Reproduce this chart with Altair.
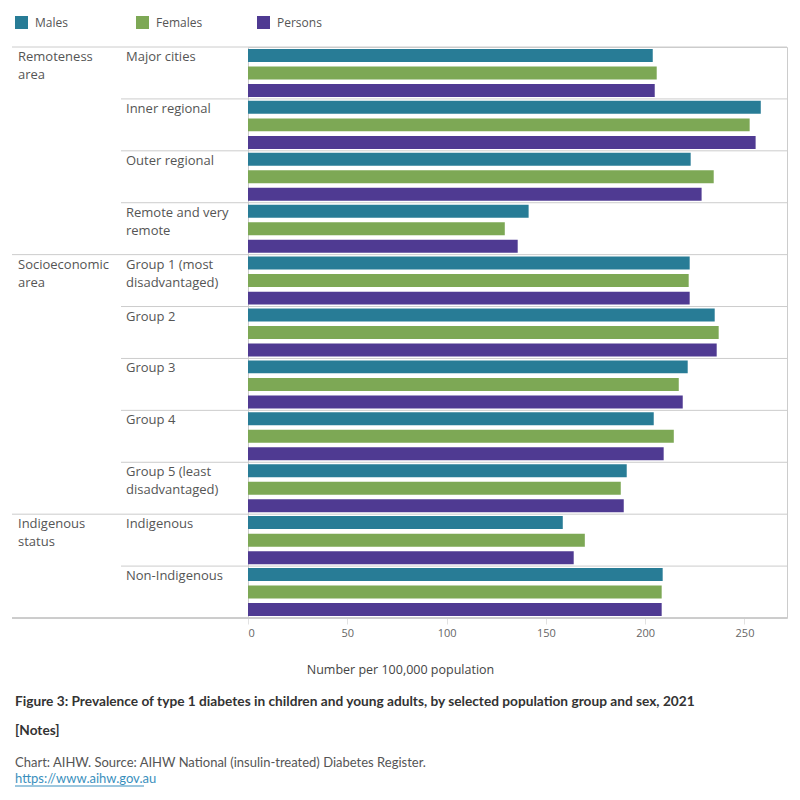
import altair as alt
import pandas as pd

# ---- data ----
groups = ["Remoteness area"] * 4 + ["Socioeconomic area"] * 5 + ["Indigenous status"] * 2
group_labels = ["Remoteness\narea", "Socioeconomic\narea", "Indigenous\nstatus"]
subgroups = [
    "Major cities", "Inner regional", "Outer regional", "Remote and very remote",
    "Group 1 (most disadvantaged)", "Group 2", "Group 3", "Group 4",
    "Group 5 (least disadvantaged)", "Indigenous", "Non-Indigenous",
]
subgroup_labels = [
    "Major cities", "Inner regional", "Outer regional", "Remote and very\nremote",
    "Group 1 (most\ndisadvantaged)", "Group 2", "Group 3", "Group 4",
    "Group 5 (least\ndisadvantaged)", "Indigenous", "Non-Indigenous",
]
sexes = ["Males", "Females", "Persons"]
males = [203.8, 258.2, 222.9, 141.3, 222.4, 235.0, 221.4, 204.3, 190.7, 158.5, 208.8]
females = [205.8, 252.6, 234.5, 129.3, 221.9, 237.0, 216.9, 214.4, 187.7, 169.6, 208.3]
persons = [204.8, 255.6, 228.4, 135.8, 222.4, 236.0, 218.9, 209.3, 189.2, 164.0, 208.3]
colors = ["#287c96", "#7da855", "#4f3a92"]
x_ticks = [0, 50, 100, 150, 200, 250]
x_max = 271.4

title_text = "Figure 3: Prevalence of type 1 diabetes in children and young adults, by selected population group and sex, 2021"
notes_text = "[Notes]"
source_text = "Chart: AIHW. Source: AIHW National (insulin-treated) Diabetes Register."
link_text = "https://www.aihw.gov.au"

# ---- tables ----
rows = []
for i, s in enumerate(subgroups):
    for sex, vals in zip(sexes, [males, females, persons]):
        rows.append({"sub": s, "sex": sex, "value": vals[i]})
bars_df = pd.DataFrame(rows)

first_flags = [i == 0 or groups[i] != groups[i - 1] for i in range(len(groups))]
rows_df = pd.DataFrame({"sub": subgroups, "label": subgroup_labels, "first": first_flags})
group_first_subs = [s for s, f in zip(subgroups, first_flags) if f]
group_df = pd.DataFrame({"sub": group_first_subs, "label": group_labels})

W = 539
H = 571
FONT = "Open Sans"
NARROW = "Lato"

yscale = alt.Scale(domain=subgroups, paddingInner=0, paddingOuter=0)

bars = alt.Chart(bars_df).mark_bar().encode(
    x=alt.X(
        "value:Q",
        scale=alt.Scale(domain=[0, x_max], nice=False, zero=True),
        axis=alt.Axis(
            values=x_ticks, grid=False, domain=False, ticks=True, tickColor="#e2e2e2",
            tickSize=6, labelFontSize=11, labelFont=FONT, labelColor="#666666",
            labelPadding=3, title="Number per 100,000 population",
            titleFont=FONT, titleFontSize=12.5, titleFontWeight="normal",
            titleColor="#444444", titleX=152, titleY=51, titleAnchor="middle",
            titleAlign="center", titleBaseline="middle",
        ),
    ),
    y=alt.Y("sub:N", scale=yscale, axis=None),
    yOffset=alt.YOffset(
        "sex:N", sort=sexes,
        scale=alt.Scale(domain=sexes, paddingInner=0.26, paddingOuter=0.11),
    ),
    color=alt.Color(
        "sex:N",
        scale=alt.Scale(domain=sexes, range=colors),
        legend=alt.Legend(
            orient="none", legendX=-233, legendY=-31, direction="horizontal",
            title=None, symbolType="square", symbolSize=169, symbolStrokeWidth=0,
            labelFontSize=12, labelFont=FONT, labelColor="#555555", labelOffset=7,
            columnPadding=54, gridAlign="all",
        ),
    ),
)

rule_first = alt.Chart(rows_df).mark_rule(color="#cccccc", strokeWidth=1).encode(
    y=alt.Y("sub:N", scale=yscale, bandPosition=0, axis=None),
    x=alt.value(-236), x2=alt.value(W),
).transform_filter("datum.first")

rule_other = alt.Chart(rows_df).mark_rule(color="#cccccc", strokeWidth=1).encode(
    y=alt.Y("sub:N", scale=yscale, bandPosition=0, axis=None),
    x=alt.value(-127), x2=alt.value(W),
).transform_filter("!datum.first")

rule_bottom = alt.Chart(rows_df).mark_rule(color="#cccccc", strokeWidth=1).encode(
    y=alt.value(H), x=alt.value(-236), x2=alt.value(W),
)

sub_text = alt.Chart(rows_df).mark_text(
    align="left", baseline="top", dy=4, font=FONT, fontSize=13, color="#555555",
    lineBreak="\n", lineHeight=18,
).encode(
    y=alt.Y("sub:N", scale=yscale, bandPosition=0, axis=None),
    x=alt.value(-122),
    text="label:N",
)

group_text = alt.Chart(group_df).mark_text(
    align="left", baseline="top", dy=4, font=FONT, fontSize=13, color="#555555",
    lineBreak="\n", lineHeight=18,
).encode(
    y=alt.Y("sub:N", scale=yscale, bandPosition=0, axis=None),
    x=alt.value(-230),
    text="label:N",
)

title_mark = alt.Chart(pd.DataFrame({"t": [title_text]})).mark_text(
    align="left", baseline="middle", font=NARROW, fontSize=13.7, fontWeight="bold",
    color="#333333",
).encode(x=alt.value(-233), y=alt.value(655), text="t:N")

notes_mark = alt.Chart(pd.DataFrame({"t": [notes_text]})).mark_text(
    align="left", baseline="middle", font=NARROW, fontSize=13.7, fontWeight="bold",
    color="#333333",
).encode(x=alt.value(-233), y=alt.value(684), text="t:N")

source_mark = alt.Chart(pd.DataFrame({"t": [source_text]})).mark_text(
    align="left", baseline="middle", font=NARROW, fontSize=13, color="#555555",
).encode(x=alt.value(-233), y=alt.value(716), text="t:N")

link_mark = alt.Chart(pd.DataFrame({"t": [link_text]})).mark_text(
    align="left", baseline="middle", font=NARROW, fontSize=13, color="#3a8fbd",
).encode(x=alt.value(-233), y=alt.value(732), text="t:N")

link_line = alt.Chart(pd.DataFrame({"t": [link_text]})).mark_rule(
    color="#3a8fbd", strokeWidth=1,
).encode(x=alt.value(-233), x2=alt.value(-104), y=alt.value(739))

chart = alt.layer(
    bars, rule_first, rule_other, rule_bottom, sub_text, group_text,
    title_mark, notes_mark, source_mark, link_mark, link_line,
).properties(
    width=W, height=H,
    autosize=alt.AutoSizeParams(type="none"),
    padding={"left": 240, "top": 39, "right": 5, "bottom": 190},
).configure_view(stroke="#cccccc", strokeWidth=1)

chart.save("out.html", embed_options={"renderer": "svg", "actions": False})
